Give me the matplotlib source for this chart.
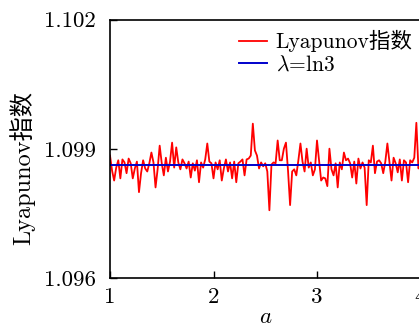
import numpy as np
import matplotlib
matplotlib.use("Agg")
import matplotlib.pyplot as plt

plt.rcParams['mathtext.fontset'] = 'cm'
plt.rcParams['font.family'] = ['cmr10', 'Noto Sans CJK SC']
plt.rcParams['axes.unicode_minus'] = False

LN3 = np.log(3.0)
a_start, a_stop, n_pts = 1.0, 4.0, 151
# deviation of Lyapunov exponent from ln3, in units of 1e-4
dev_1e4 = [
    2.3, -1.2, -3.5, -0.5, 1.2, -3.0, 1.4, 0.7, -1.8, 1.6,
    0.5, -3.0, -0.7, 0.9, -6.2, -1.8, 1.2, -0.7, -1.4, 0.5,
    3.0, 0.7, -5.1, -0.9, 4.6, 0.5, -2.3, 1.8, -1.4, 0.9,
    5.3, -0.5, 4.2, 0.7, -0.9, 1.4, 0.5, -0.7, 0.9, -2.8,
    0.5, -1.2, 1.2, -3.9, 0.7, -0.5, 1.4, 5.1, 0.9, 0.5,
    -3.0, 0.7, -0.9, 1.2, -3.5, -0.7, 1.4, -1.4, 0.7, -3.0,
    0.9, -3.9, 0.5, 0.9, 1.4, -2.3, 1.4, 1.6, 2.3, 9.7,
    3.5, 2.3, -0.7, 0.7, -0.2, 0.5, -1.4, -10.4, 0.2, 0.7,
    0.5, 5.8, 1.2, 1.2, 3.9, 5.3, -1.2, -9.2, -1.4, -0.9,
    -2.3, 1.2, 5.1, 0.9, -1.4, 3.9, -0.5, 0.7, -2.3, -0.9,
    5.8, 1.2, -3.5, -2.8, -3.0, -4.8, 3.9, -0.9, -2.3, 0.5,
    -5.1, 0.7, -0.9, 3.0, 1.2, 1.6, 0.5, -2.8, 0.9, -4.2,
    1.6, -0.7, 0.7, -0.5, -9.2, 1.2, 0.7, 4.6, -1.8, 0.9,
    1.2, 0.5, -1.8, 0.9, 5.1, 0.7, -3.5, 1.8, 0.5, -1.6,
    1.4, -3.5, 1.2, 0.7, -3.9, 1.2, 0.7, 1.8, 9.9, -0.7, 0.2,
]
x_ticks = [1, 2, 3, 4]
x_ticklabels = ['1', '2', '3', '4']
y_ticks = [1.096, 1.099, 1.102]
y_ticklabels = ['1.096', '1.099', '1.102']

a = np.linspace(a_start, a_stop, n_pts)
lyap = LN3 + np.array(dev_1e4) * 1e-4

W, H = 419, 329
fig = plt.figure(figsize=(W / 100, H / 100), dpi=100)
ax_w = 420.5 - 110
ax_h = 278 - 19.5
ax = fig.add_axes([110 / W, (H - 278) / H, ax_w / W, ax_h / H])

ax.plot(a, lyap, color='#ff0000', lw=1.3, label='Lyapunov指数')
ax.plot(a, np.full_like(a, LN3), color='#0000cc', lw=1.4, label=r'$\lambda$=ln3')

ax.set_xlim(1, 4)
ax.set_ylim(1.096, 1.102)
ax.set_xticks(x_ticks)
ax.set_xticklabels(x_ticklabels)
ax.set_yticks(y_ticks)
ax.set_yticklabels(y_ticklabels)
ax.tick_params(direction='in', length=5, width=1, labelsize=16.5, pad=10,
               top=False, right=False)
ax.tick_params(axis='x', pad=7)
for sp in ax.spines.values():
    sp.set_linewidth(1.2)

ax.set_xlabel(r'$a$', fontsize=16.5, labelpad=0)
ax.set_ylabel('Lyapunov指数', fontsize=17.5, va='center')
ax.yaxis.set_label_coords((22 - 110) / ax_w, (278 - 168) / ax_h)

leg = fig.legend(*ax.get_legend_handles_labels(), loc='upper left',
                 frameon=False, fontsize=15.5,
                 handlelength=1.3, handletextpad=0.4, labelspacing=0.15,
                 borderpad=0, borderaxespad=0,
                 bbox_to_anchor=(239 / W, 1 - 30 / H))

fig.savefig('out.png', dpi=100)
